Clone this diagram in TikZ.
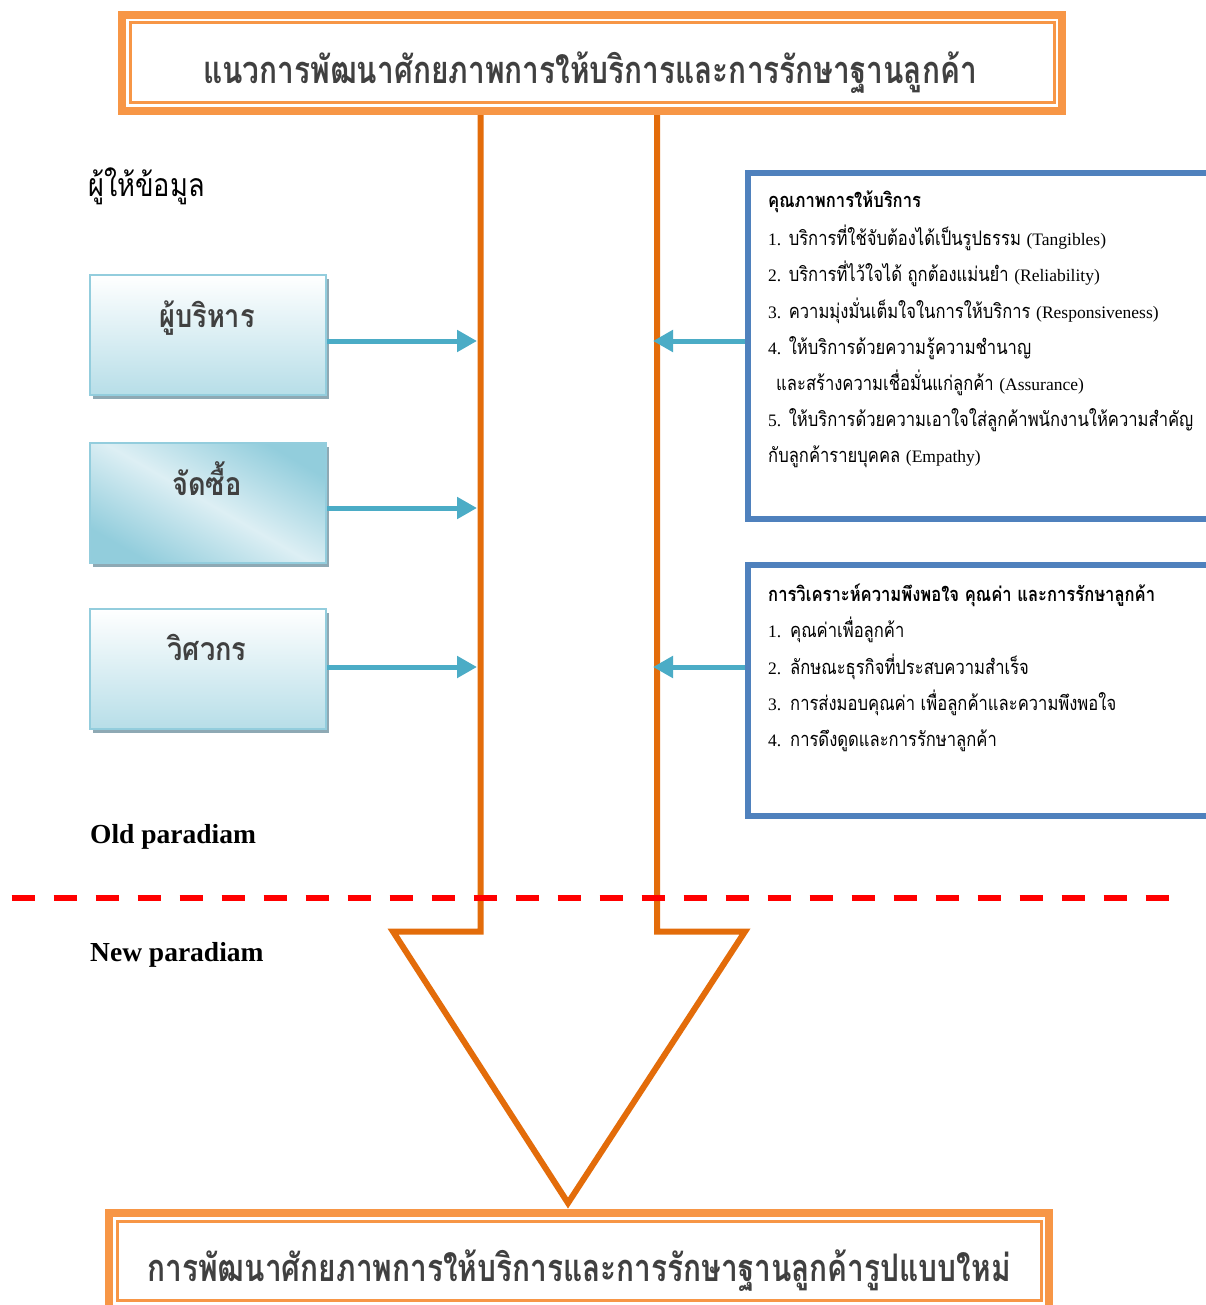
\documentclass[tikz,border=0pt]{standalone}
\usepackage{fontspec}
\usetikzlibrary{arrows.meta,shadows}
\setmainfont{Liberation Serif}
\newfontfamily\thtitlefont[Script=Thai,FakeStretch=0.785]{Loma}
\newfontfamily\thbodyfont[Script=Thai,FakeStretch=0.83]{Loma}
\newfontfamily\thlabelfont[Script=Thai,FakeStretch=0.85]{Loma}
\newcommand\latn[1]{{\fontsize{17.5}{20}\selectfont\rmfamily #1}}
\definecolor{frameor}{HTML}{F79646}
\definecolor{arrowor}{HTML}{E36C0A}
\definecolor{qblue}{HTML}{4F81BD}
\definecolor{tealarr}{HTML}{4BACC6}
\definecolor{lbord}{HTML}{93CDDD}
\definecolor{lbot}{HTML}{B7DEE8}
\definecolor{ldark}{HTML}{92CDDC}
\definecolor{llight}{HTML}{DDEFF4}
\definecolor{shadowc}{HTML}{8EA9B4}
\definecolor{txtgrey}{HTML}{404040}
\begin{document}
\begin{tikzpicture}[x=1pt,y=-1pt,
  outerframe/.style={draw=frameor,line width=8pt,rectangle,inner sep=0pt},
  innerframe/.style={draw=frameor,line width=3pt,rectangle,inner sep=0pt},
  ttl/.style={text=txtgrey,inner sep=0pt,anchor=base,font=\thtitlefont\bfseries\fontsize{38}{40}\selectfont},
  lbox/.style={draw=lbord,line width=2.5pt,minimum width=236pt,minimum height=120pt,inner sep=0pt,
     drop shadow={shadow xshift=3pt,shadow yshift=-4pt,fill=shadowc,opacity=1}},
  lbl/.style={text=txtgrey,inner sep=0pt,anchor=base,font=\thlabelfont\bfseries\fontsize{32}{34}\selectfont},
  qbox/.style={draw=qblue,line width=6pt,rectangle,inner sep=0pt,anchor=north west},
  qtxt/.style={anchor=base west,inner sep=0pt,font=\thbodyfont\fontsize{20}{22}\selectfont},
  tarrow/.style={draw=tealarr,line width=5pt,-{Triangle[length=20pt,width=21pt]}},
  bigarrow/.style={draw=arrowor,line width=6pt,line join=miter},
  para/.style={anchor=base west,inner sep=0pt,font=\rmfamily\bfseries\fontsize{27.5}{30}\selectfont},
]
\useasboundingbox (0,0) rectangle (1206,1305);
\clip (0,0) rectangle (1206,1305);
\fill[white] (0,0) rectangle (1206,1305);

% big orange arrow
\coordinate (sL) at (480.5,111);
\coordinate (sR) at (657,111);
\coordinate (tip) at (568,1203);
\draw[bigarrow] (sL) -- (480.5,931.5) -- (393,931.5) -- (tip) -- (745,931.5) -- (657,931.5) -- (sR);

% title frame
\node[outerframe,minimum width=940pt,minimum height=96pt] (title) at (592,63) {};
\node[innerframe,minimum width=924pt,minimum height=80pt] (titlein) at (592,63) {};
\node[ttl] (titletxt) at (590,84) {แนวการพัฒนาศักยภาพการให้บริการและการรักษาฐานลูกค้า};

% bottom frame
\node[outerframe,minimum width=940pt,minimum height=102pt] (bottom) at (579,1264) {};
\node[innerframe,minimum width=924pt,minimum height=79pt] (bottomin) at (579,1261) {};
\node[ttl] (bottomtxt) at (579,1281) {การพัฒนาศักยภาพการให้บริการและการรักษาฐานลูกค้ารูปแบบใหม่};

% left side
\node[anchor=base west,inner sep=0pt,font=\thlabelfont\fontsize{32}{34}\selectfont] (giver) at (88,197) {ผู้ให้ข้อมูล};

\node[lbox,top color=white,bottom color=lbot] (b1) at (208,335) {};
\node[lbox,top color=ldark,bottom color=ldark,middle color=llight,shading angle=-30] (b2) at (208,503) {};
\node[lbox,top color=white,bottom color=lbot] (b3) at (208,669) {};
\node[lbl] (b1t) at (207,327) {ผู้บริหาร};
\node[lbl] (b2t) at (207,495) {จัดซื้อ};
\node[lbl] (b3t) at (207,660) {วิศวกร};

\coordinate (l1) at (477,341);
\coordinate (l2) at (477,508);
\coordinate (l3) at (477,667);
\draw[tarrow] (l1 -| b1.east) -- (l1);
\draw[tarrow] (l2 -| b2.east) -- (l2);
\draw[tarrow] (l3 -| b3.east) -- (l3);

\node[para] (old) at (90,843) {Old paradiam};
\node[para] (new) at (90,961) {New paradiam};

% right boxes
\node[qbox,minimum width=490pt,minimum height=346pt] (q1) at (745,170) {};
\node[qbox,minimum width=490pt,minimum height=251pt] (q2) at (745,562) {};

\coordinate (r1) at (653,341);
\coordinate (r2) at (653,667);
\draw[tarrow] (r1 -| q1.west) -- (r1);
\draw[tarrow] (r2 -| q2.west) -- (r2);

\node[qtxt] (q1t0) at (768,208) {\bfseries คุณภาพการให้บริการ};
\node[qtxt] (q1t1) at (768,246) {\latn{1.} บริการที่ใช้จับต้องได้เป็นรูปธรรม \latn{(Tangibles)}};
\node[qtxt] (q1t2) at (768,282) {\latn{2.} บริการที่ไว้ใจได้ ถูกต้องแม่นยำ \latn{(Reliability)}};
\node[qtxt] (q1t3) at (768,318) {\latn{3.} ความมุ่งมั่นเต็มใจในการให้บริการ \latn{(Responsiveness)}};
\node[qtxt] (q1t4) at (768,354) {\latn{4.} ให้บริการด้วยความรู้ความชำนาญ};
\node[qtxt] (q1t5) at (776,390) {และสร้างความเชื่อมั่นแก่ลูกค้า \latn{(Assurance)}};
\node[qtxt] (q1t6) at (768,426) {\latn{5.} ให้บริการด้วยความเอาใจใส่ลูกค้าพนักงานให้ความสำคัญ};
\node[qtxt] (q1t7) at (768,462) {กับลูกค้ารายบุคคล \latn{(Empathy)}};

\node[qtxt] (q2t0) at (768,601) {\bfseries การวิเคราะห์ความพึงพอใจ คุณค่า และการรักษาลูกค้า};
\node[qtxt] (q2n1) at (768,637) {\latn{1.}};
\node[qtxt] (q2t1) at (790,637) {คุณค่าเพื่อลูกค้า};
\node[qtxt] (q2n2) at (768,674) {\latn{2.}};
\node[qtxt] (q2t2) at (790,674) {ลักษณะธุรกิจที่ประสบความสำเร็จ};
\node[qtxt] (q2n3) at (768,710) {\latn{3.}};
\node[qtxt] (q2t3) at (790,710) {การส่งมอบคุณค่า เพื่อลูกค้าและความพึงพอใจ};
\node[qtxt] (q2n4) at (768,746) {\latn{4.}};
\node[qtxt] (q2t4) at (790,746) {การดึงดูดและการรักษาลูกค้า};

% dashed divider
\coordinate (dL) at (11.5,898);
\coordinate (dR) at (1169,898);
\draw[red,line width=6.5pt,dash pattern=on 23pt off 19pt] (dL) -- (dR);
\end{tikzpicture}
\end{document}
